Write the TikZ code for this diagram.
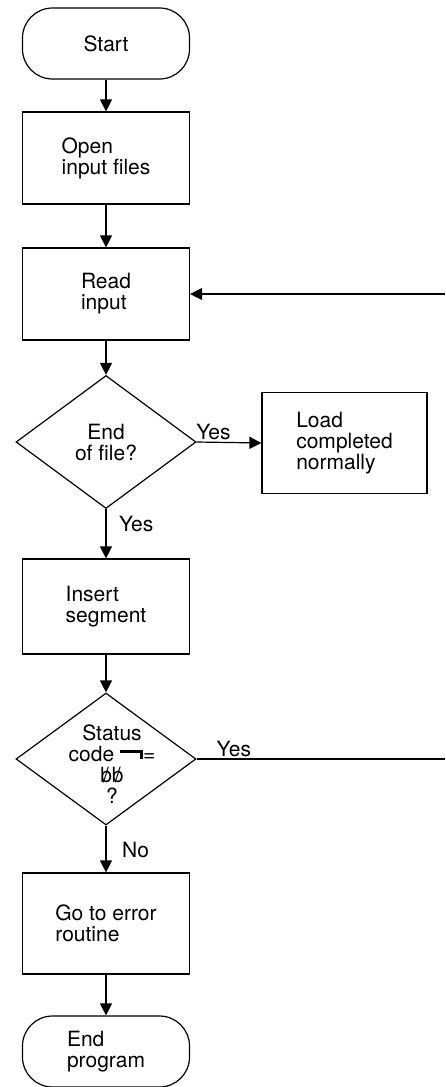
\documentclass[tikz,border=0pt]{standalone}
\usepackage{fontspec}
\setmainfont{TeX Gyre Heros}
\usetikzlibrary{shapes, shapes.geometric, positioning, arrows.meta}

\newcommand{\blankb}{\ooalign{b\cr\hidewidth/\hidewidth}}
\newcommand{\notsign}{\hbox{\rule[8.5pt]{23pt}{2.6pt}\kern-2.6pt\rule[2pt]{2.6pt}{9.1pt}}}

\begin{document}
\begin{tikzpicture}[
    x=1pt, y=-1pt,
    >={Triangle[length=12pt, width=12pt]},
    every node/.style={font=\fontsize{21}{21}\selectfont},
    terminal/.style={
        draw, rectangle, rounded corners=30pt, align=left,
        minimum width=167pt, minimum height=71pt, line width=1.2pt
    },
    process/.style={
        draw, rectangle, align=left,
        minimum width=167pt, line width=1.2pt
    },
    decision/.style={
        draw, diamond, inner sep=0pt,
        minimum width=180pt, minimum height=133pt, line width=1.2pt
    },
    flow/.style={->, line width=1.2pt},
    lbl/.style={inner sep=1.5pt}
]

\useasboundingbox (0,0) rectangle (445,1087);

\node[terminal] (Start) at (106, 43.5) {Start};

\node[process, minimum height=92pt] (Open) at (106, 158) {
    Open \\
    input files
};

\node[process, minimum height=92pt] (Read) at (106, 294) {
    Read \\
    input
};

\node[decision] (Eof) at (106, 442) {};
\node[align=center] (EofText) at (Eof) {End \\ of file?};

\node[process, minimum width=165pt, minimum height=101pt] (Load) at (344.5, 443) {
    Load \\
    completed \\
    normally
};

\node[process, minimum height=95pt] (Insert) at (106, 606.5) {
    Insert \\
    segment
};

\node[decision, minimum height=132pt] (Status) at (106, 759) {};
\node[align=center, xshift=6pt, yshift=-5pt] (StatusText) at (Status) {
    Status \\
    code \notsign= \\
    \blankb\blankb \\
    ?
};

\node[process, minimum height=101pt] (Error) at (106, 923.5) {
    Go to error \\
    routine
};

\node[terminal] (End) at (106, 1051.5) {
    End \\
    program
};

\coordinate (LoopIn) at (445, 294);
\coordinate (StatusOut) at (445, 759);

\draw[flow] (Start.south) -- (Open.north);
\draw[flow] (Open.south) -- (Read.north);
\draw[flow] (Read.south) -- (Eof.north);
\draw[flow] (Eof.south) -- node[lbl, right=11pt, pos=0.3] {Yes} (Insert.north);
\draw[flow] (Eof.east) -- node[lbl, above, pos=0.26] {Yes} (Load.west);
\draw[flow] (Insert.south) -- (Status.north);
\draw[flow] (Status.south) -- node[lbl, right=14pt, pos=0.52] {No} (Error.north);
\draw[flow] (Error.south) -- (End.north);
\draw[line width=1.2pt] (Status.east) -- node[lbl, above, pos=0.15] {Yes} (StatusOut);
\draw[flow] (LoopIn) -- (Read.east);

\end{tikzpicture}
\end{document}
